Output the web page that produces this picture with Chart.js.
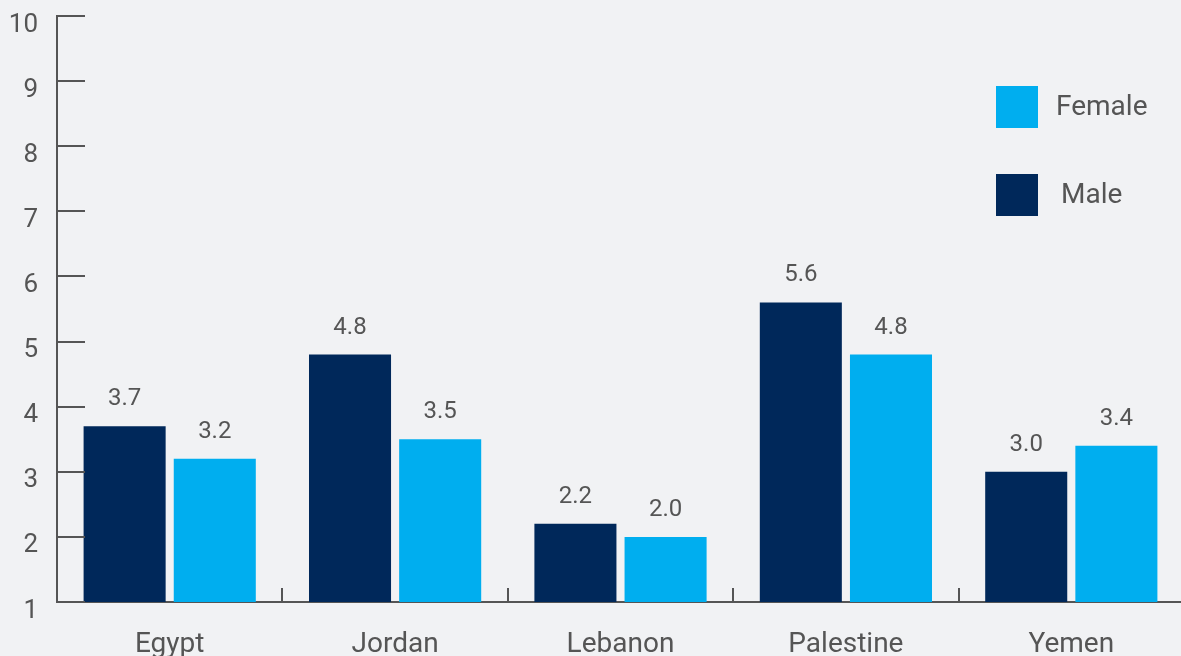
<!DOCTYPE html>
<html>
<head>
<meta charset="utf-8">
<title>Male and female by country</title>
<script src="https://cdn.jsdelivr.net/npm/chart.js@4.4.1/dist/chart.umd.min.js"></script>
<style>
    html, body { margin: 0; padding: 0; background: #f1f2f4; overflow: hidden; }
    #wrap { position: relative; width: 1181px; height: 656px; overflow: hidden; }
    #inner { position: relative; width: 1184px; height: 656px; }
</style>
</head>
<body>
<div id="wrap">
    <div id="inner">
        <canvas id="genderChart"></canvas>
    </div>
</div>
<script>
const countries = ['Egypt', 'Jordan', 'Lebanon', 'Palestine', 'Yemen'];
const maleValues = [3.7, 4.8, 2.2, 5.6, 3.0];
const femaleValues = [3.2, 3.5, 2.0, 4.8, 3.4];
const yTicks = [1, 2, 3, 4, 5, 6, 7, 8, 9, 10];

const MALE_COLOR = '#00285a';
const FEMALE_COLOR = '#00aeef';
const BG = '#f1f2f4';
const INK = '#555555';
const FONT = 'Roboto, "Open Sans", sans-serif';

const background = {
    id: 'background',
    beforeDraw(chart) {
        const ctx = chart.ctx;
        ctx.save();
        ctx.fillStyle = BG;
        ctx.fillRect(0, 0, chart.width, chart.height);
        ctx.restore();
    }
};

// short tick marks inside the plot + category separators on the x axis
const axisMarks = {
    id: 'axisMarks',
    afterDatasetsDraw(chart) {
        const ctx = chart.ctx;
        const area = chart.chartArea;
        const y = chart.scales.y;
        const x = chart.scales.x;
        ctx.save();
        ctx.strokeStyle = INK;
        ctx.lineWidth = 2;
        ctx.beginPath();
        yTicks.forEach(v => {
            const py = Math.round(y.getPixelForValue(v));
            ctx.moveTo(area.left, py);
            ctx.lineTo(area.left + 28, py);
        });
        for (let i = 1; i < countries.length; i++) {
            const px = Math.round(x.getPixelForValue(i - 0.5));
            ctx.moveTo(px, area.bottom);
            ctx.lineTo(px, area.bottom - 14);
        }
        ctx.stroke();
        ctx.restore();
    }
};

// value printed above each bar
const valueLabels = {
    id: 'valueLabels',
    afterDatasetsDraw(chart) {
        const ctx = chart.ctx;
        ctx.save();
        ctx.fillStyle = INK;
        ctx.font = '24px ' + FONT;
        ctx.textAlign = 'center';
        ctx.textBaseline = 'alphabetic';
        chart.data.datasets.forEach((ds, di) => {
            chart.getDatasetMeta(di).data.forEach((bar, i) => {
                ctx.fillText(ds.data[i].toFixed(1), bar.x, bar.y - 21);
            });
        });
        ctx.restore();
    }
};

// legend in the top right corner, female listed first
const boxLegend = {
    id: 'boxLegend',
    afterDraw(chart) {
        const ctx = chart.ctx;
        const items = [
            { ds: chart.data.datasets[1], top: 86, textLeft: 1056 },
            { ds: chart.data.datasets[0], top: 174, textLeft: 1061 }
        ];
        ctx.save();
        ctx.font = '28px ' + FONT;
        ctx.textBaseline = 'middle';
        ctx.textAlign = 'left';
        items.forEach(it => {
            ctx.fillStyle = it.ds.backgroundColor;
            ctx.fillRect(996, it.top, 42, 42);
            ctx.fillStyle = INK;
            ctx.fillText(it.ds.label, it.textLeft, it.top + 22);
        });
        ctx.restore();
    }
};

const datasets = [
    { label: 'Male', data: maleValues, backgroundColor: MALE_COLOR },
    { label: 'Female', data: femaleValues, backgroundColor: FEMALE_COLOR }
];

new Chart(document.getElementById('genderChart'), {
    type: 'bar',
    data: { labels: countries, datasets: datasets },
    options: {
        responsive: true,
        maintainAspectRatio: false,
        animation: false,
        layout: { padding: { top: 16, right: 0, left: 0, bottom: 0 } },
        datasets: { bar: { categoryPercentage: 0.8, barPercentage: 0.91, borderWidth: 0 } },
        plugins: {
            legend: { display: false },
            tooltip: { enabled: false }
        },
        scales: {
            x: {
                grid: { display: false },
                border: { display: true, color: INK, width: 2 },
                ticks: { color: INK, font: { family: FONT, size: 28 }, padding: 18 },
                afterFit(scale) { scale.height = 54; }
            },
            y: {
                min: 1,
                max: 10,
                grid: { display: false, drawTicks: false },
                border: { display: true, color: INK, width: 2 },
                ticks: {
                    stepSize: 1,
                    color: INK,
                    padding: 19,
                    labelOffset: 9,
                    font: { family: FONT, size: 26 }
                },
                afterFit(scale) {
                    scale.width = 57;
                    scale.paddingTop = 0;
                    scale.paddingBottom = 0;
                }
            }
        }
    },
    plugins: [background, axisMarks, valueLabels, boxLegend]
});
</script>
</body>
</html>
